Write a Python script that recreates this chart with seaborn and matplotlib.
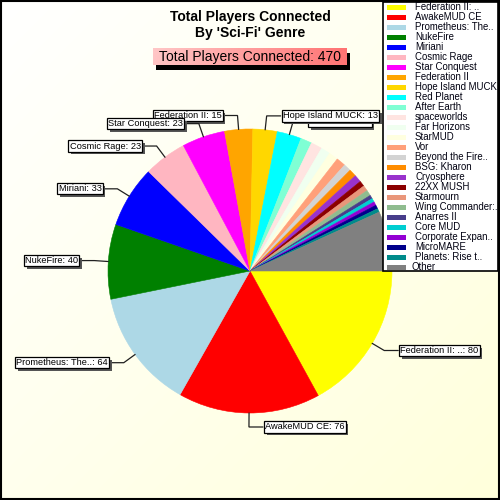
import numpy as np
import matplotlib
matplotlib.use("Agg")
import matplotlib.pyplot as plt
import matplotlib.patheffects as pe
from matplotlib.patches import Rectangle
import seaborn as sns

# ---------------- data ----------------
names = ["Federation II: ..", "AwakeMUD CE", "Prometheus: The..", "NukeFire", "Miriani",
         "Cosmic Rage", "Star Conquest", "Federation II", "Hope Island MUCK", "Red Planet",
         "After Earth", "spaceworlds", "Far Horizons", "StarMUD", "Vor",
         "Beyond the Fire..", "BSG: Kharon", "Cryosphere", "22XX MUSH", "Starmourn",
         "Wing Commander:..", "Anarres II", "Core MUD", "Corporate Expan..", "MicroMARE",
         "Planets: Rise t..", "Other"]
players = [80, 76, 64, 40, 33,
           23, 23, 15, 13, 13,
           6, 6, 5, 5, 5,
           4, 4, 4, 3, 3,
           3, 2, 2, 2, 2,
           2, 32]
color_names = ["#FFFF00", "#FF0000", "#ADD8E6", "#008000", "#0000FF",
               "#FFB6C1", "#FF00FF", "#FFA500", "#FFD700", "#00FFFF",
               "#7FFFD4", "#FFE4E1", "#F0FFF0", "#FFFFE0", "#FFA07A",
               "#D3D3D3", "#FF8C00", "#9932CC", "#8B0000", "#E9967A",
               "#8FBC8F", "#483D8B", "#00CED1", "#9400D3", "#00008B",
               "#008B8B", "#808080"]
n_labeled = 10
title_text = "Total Players Connected\nBy 'Sci-Fi' Genre"
total_text = "Total Players Connected: %d" % sum(players)

# ---------------- style ----------------
sns.set_style("white")
plt.rcParams["font.family"] = ["Liberation Sans", "DejaVu Sans"]
colors = sns.color_palette(color_names)

W = H = 500
fig = plt.figure(figsize=(5, 5), dpi=100)

# background gradient
bg = fig.add_axes([0, 0, 1, 1])
yy, xx = np.mgrid[0:1:200j, 0:1:200j]
t = (xx + yy) / 2.0
c0 = np.array([1.0, 1.0, 1.0])
c1 = np.array([1.0, 1.0, 0.86])
grad = c0[None, None, :] * (1 - t[..., None]) + c1[None, None, :] * t[..., None]
bg.imshow(grad, extent=[0, W, H, 0], aspect="auto", interpolation="bilinear")
bg.set_xlim(0, W); bg.set_ylim(H, 0)
bg.axis("off")

ax = fig.add_axes([0, 0, 1, 1])
ax.patch.set_alpha(0)

cx, cy, R = 250, 271, 142
wedges, _ = ax.pie(players, colors=colors, startangle=0, counterclock=True,
                   center=(cx, cy), radius=R,
                   wedgeprops=dict(linewidth=0.4))
for w, col in zip(wedges, colors):
    w.set_edgecolor(col)
ax.set_xlim(0, W)
ax.set_ylim(H, 0)
ax.set_aspect("equal")
ax.axis("off")

# ---------------- slice labels ----------------
total = float(sum(players))
cum = np.concatenate([[0], np.cumsum(players)])
fs_lab = 6.7
shadow = [pe.SimplePatchShadow(offset=(2, -2), shadow_rgbFace="#555555", alpha=1.0), pe.Normal()]
for i in range(n_labeled):
    mid = np.deg2rad((cum[i] + players[i] / 2.0) / total * 360.0)
    c, s = np.cos(mid), np.sin(mid)
    p0 = (cx + R * c, cy + R * s)
    p1 = (cx + (R + 14) * c, cy + (R + 14) * s)
    right = c > -0.05
    p2 = (p1[0] + (14 if right else -14), p1[1])
    z = 30 - i
    ax.plot([p0[0], p1[0], p2[0]], [p0[1], p1[1], p2[1]], color="#202020",
            lw=0.9, zorder=z, solid_joinstyle="miter")
    label = "%s: %d" % (names[i], players[i])
    tx = p2[0] + (2 if right else -2)
    ha = "left" if right else "right"
    txt = ax.text(tx, p2[1], label, ha=ha, va="center", fontsize=fs_lab, color="black",
                  zorder=z + 0.5,
                  bbox=dict(boxstyle="square,pad=0.12", fc="white", ec="black", lw=0.9))
    txt.get_bbox_patch().set_path_effects(shadow)

# ---------------- title ----------------
ax.text(250, 25, title_text, ha="center", va="center", fontsize=10,
        fontweight="bold", color="black", linespacing=1.1)

# total box with shadow + gradient
bx0, by0, bx1, by1 = 153, 48, 347, 65
ax.add_patch(Rectangle((bx0 + 3, by0 + 5), bx1 - bx0, by1 - by0, fc="black", ec="none", zorder=5))
gx = np.linspace(0, 1, 100)[None, :, None]
gy = np.linspace(0, 1, 20)[:, None, None]
cl = np.array([1.0, 0.78, 0.78])
cr = np.array([1.0, 0.45, 0.45])
box_grad = cl * (1 - gx) + cr * gx
box_grad = box_grad * (1 - 0.06 * gy) + 0.06 * gy * np.array([1.0, 0.6, 0.6])
ax.imshow(np.clip(box_grad, 0, 1), extent=[bx0, bx1, by1, by0], aspect="auto", zorder=6)
ax.text((bx0 + bx1) / 2, (by0 + by1) / 2 + 0.5, total_text, ha="center", va="center",
        fontsize=10, color="black", zorder=7)
ax.set_xlim(0, W)
ax.set_ylim(H, 0)

# ---------------- legend ----------------
lx0, ly0, lx1, ly1 = 383, 2, 498, 271
leg_box = Rectangle((lx0, ly0), lx1 - lx0, ly1 - ly0, fc="white", ec="black", lw=1.2, zorder=40)
ax.add_patch(leg_box)
for i, (nm, col) in enumerate(zip(names, colors)):
    ry = 7 + 10 * i
    ax.add_patch(Rectangle((387, ry - 2.5), 19, 5, fc=col, ec="none", zorder=41))
    tt = ax.text(415 if nm != "Other" else 412, ry, nm, ha="left", va="center",
                 fontsize=6.9, color="#000010", zorder=42)
    tt.set_clip_path(leg_box)

# figure frame
ax.add_patch(Rectangle((0.5, 0.5), W - 1.5, H - 1.5, fc="none", ec="black", lw=1.5, zorder=50))

fig.savefig("out.png", dpi=100)
